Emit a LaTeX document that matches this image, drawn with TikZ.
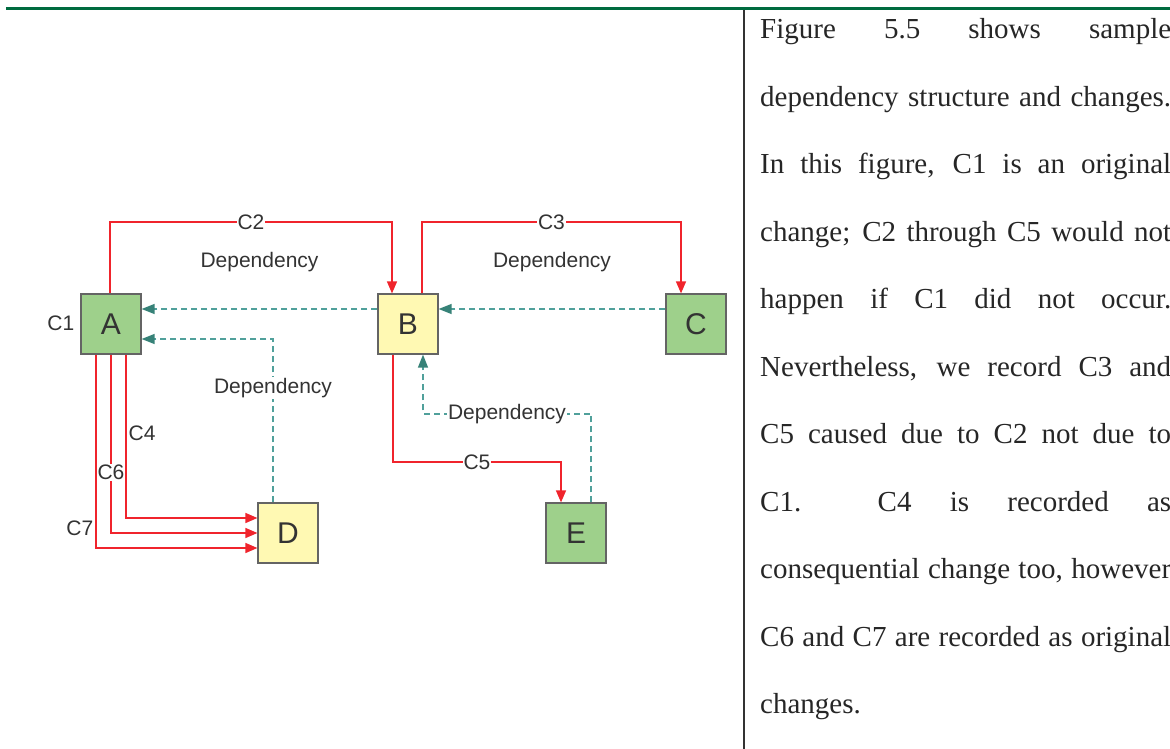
\documentclass[tikz,border=0pt]{standalone}
\usepackage{fontspec}
\setmainfont{Liberation Serif}
\setsansfont{Liberation Sans}
\usepackage{tikz}
\usetikzlibrary{positioning,arrows.meta,calc}

\definecolor{boxgreen}{RGB}{158,208,139}
\definecolor{boxyellow}{RGB}{255,249,179}
\definecolor{boxedge}{RGB}{100,100,100}
\definecolor{chgred}{RGB}{240,36,44}
\definecolor{depteal}{RGB}{80,160,155}
\definecolor{deptip}{RGB}{55,130,120}
\definecolor{txtgray}{RGB}{51,51,51}
\definecolor{rulegreen}{RGB}{0,107,63}

\begin{document}
\begin{tikzpicture}[
  x=1pt, y=-1pt,
  font=\sffamily\fontsize{21}{25}\selectfont,
  text=txtgray,
  box/.style={draw=boxedge, line width=1.2pt, minimum size=60pt, inner sep=0pt,
              font=\sffamily\fontsize{30}{36}\selectfont},
  chg/.style={draw=chgred, line width=1.4pt,
              -{Triangle[length=12pt, width=10pt, fill=chgred]}},
  dep/.style={draw=depteal, line width=1.3pt, dash pattern=on 6pt off 4pt,
              -{Triangle[length=13pt, width=10pt, fill=deptip, color=deptip]}},
  lbl/.style={fill=white, inner sep=1pt},
]
  \useasboundingbox (0,0) rectangle (1170,749);

  % page rules
  \draw[rulegreen, line width=3.5pt] (6,8.5) -- (1170,8.5);
  \draw[black!80, line width=2pt] (744,10) -- (744,749);

  % nodes
  \node[box, fill=boxgreen]  (A) at (111,324) {A};
  \node[box, fill=boxyellow] (B) at (408,324) {B};
  \node[box, fill=boxgreen]  (C) at (696,324) {C};
  \node[box, fill=boxyellow] (D) at (288,533) {D};
  \node[box, fill=boxgreen]  (E) at (576,533) {E};
  \node[inner sep=1pt, left=5pt of A, yshift=1pt] (c1) {C1};

  % changes
  \draw[chg] ([xshift=-1pt]A.north) -- ++(0,-71.5) -| node[lbl, pos=0.25]{C2} ([xshift=-16pt]B.north);
  \draw[chg] ([xshift=14pt]B.north) -- ++(0,-71.5) -| node[lbl, pos=0.25]{C3} ([xshift=-15pt]C.north);
  \draw[chg] ([xshift=-15pt]B.south) -- ++(0,107.5) -| node[lbl, pos=0.25]{C5} ([xshift=-15pt]E.north);
  \draw[chg] ([xshift=15pt]A.south) |- node[right, inner sep=2pt, pos=0.24]{C4} ([yshift=15pt]D.west);
  \draw[chg] (A.south) |- node[lbl, pos=0.33]{C6} (D.west);
  \draw[chg] ([xshift=-15pt]A.south) |- node[left, inner sep=2pt, pos=0.45]{C7} ([yshift=-15pt]D.west);

  % dependencies
  \draw[dep] ([yshift=15pt]B.west) -- ([yshift=15pt]A.east);
  \draw[dep] ([yshift=15pt]C.west) -- ([yshift=15pt]B.east);
  \draw[dep] ([xshift=-15pt]D.north) |- node[lbl, pos=0.35]{Dependency} ([yshift=-15pt]A.east);
  \draw[dep] ([xshift=15pt]E.north) -- ++(0,-88.5) -| node[lbl, pos=0.25]{Dependency} ([xshift=15pt]B.south);
  \node (dab) at ($(A)!0.5!(B) + (0,-62)$) {Dependency};
  \node (dbc) at ($(B)!0.5!(C) + (0,-62)$) {Dependency};

  % text column
  \node[anchor=base west, text width=411pt, align=justify, inner sep=0pt, text=black!85,
        font=\rmfamily\fontsize{29}{67.5}\selectfont] (para) at (760,39) {%
    Figure 5.5 shows sample\linebreak
    dependency structure and changes.\linebreak
    In this figure, C1 is an original\linebreak
    change; C2 through C5 would not\linebreak
    happen if C1 did not occur.\linebreak
    Nevertheless, we record C3 and\linebreak
    C5 caused due to C2 not due to\linebreak
    C1.\ \ C4 is recorded as\linebreak
    consequential change too, however\linebreak
    C6 and C7 are recorded as original\linebreak
    changes.};
\end{tikzpicture}
\end{document}
